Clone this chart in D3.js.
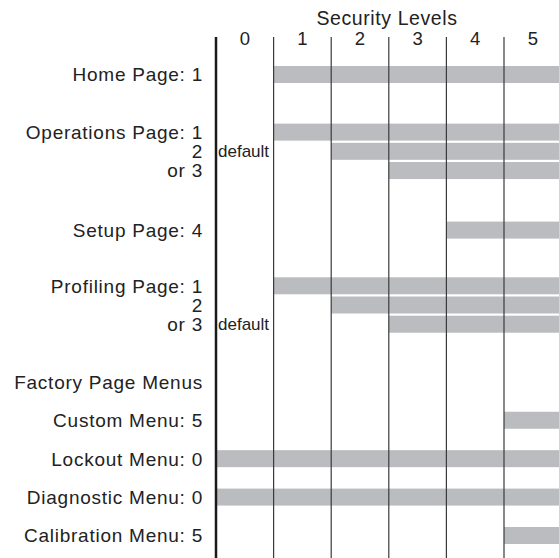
<!DOCTYPE html>
<html>
<head>
<meta charset="utf-8">
<script src="https://cdn.jsdelivr.net/npm/d3@7"></script>
<style>
  body { margin: 0; background: #fff; }
  text { font-family: "Liberation Sans", Arial, sans-serif; fill: #222; }
</style>
</head>
<body>
<div id="chart"></div>
<script>
const width = 559;
const height = 558;

// security levels across the top
const levels = [0, 1, 2, 3, 4, 5];

// rows down the left side, their slot (row units) and the lowest level that has access
const rowLabels = ["Home Page: 1", "Operations Page: 1", "2", "or 3", "Setup Page: 4",
    "Profiling Page: 1", "2", "or 3", "Factory Page Menus", "Custom Menu: 5",
    "Lockout Menu: 0", "Diagnostic Menu: 0", "Calibration Menu: 5"];
const rowSlots = [0, 3, 4, 5, 8.1, 11, 12, 13, 16, 18, 20, 22, 24];
const minLevel = [1, 1, 2, 3, 4, 1, 2, 3, null, 5, 0, 0, 5];
const defaultRows = [2, 7];

const svg = d3.select("#chart")
    .append("svg")
    .attr("width", width)
    .attr("height", height);

const x = d3.scaleLinear().domain([0, 6]).range([216, 561.6]);
const y = d3.scaleLinear().domain([0, 24]).range([74.5, 535.5]);
const barH = 17;

const rows = rowLabels.map((label, i) => ({ label, slot: rowSlots[i], level: minLevel[i], i }));

// gray access bars
svg.selectAll("rect.bar")
    .data(rows.filter(d => d.level !== null))
    .enter().append("rect")
    .attr("class", "bar")
    .attr("x", d => x(d.level) + (d.level === 0 ? 1 : 0))
    .attr("y", d => y(d.slot) - barH / 2)
    .attr("width", d => width - x(d.level))
    .attr("height", barH)
    .attr("fill", "#bbbcbf");

// vertical level dividers
svg.selectAll("line.div")
    .data(levels)
    .enter().append("line")
    .attr("x1", d => x(d))
    .attr("x2", d => x(d))
    .attr("y1", 37)
    .attr("y2", height)
    .attr("stroke", d => d === 0 ? "#1a1a1a" : "#3a3a3a")
    .attr("stroke-width", d => d === 0 ? 2.5 : 1.2);

// title and level numbers
svg.append("text")
    .attr("x", 387)
    .attr("y", 25)
    .attr("text-anchor", "middle")
    .style("font-size", "19.5px")
    .style("letter-spacing", "0.6px")
    .text("Security Levels");

svg.selectAll("text.lvl")
    .data(levels)
    .enter().append("text")
    .attr("class", "lvl")
    .attr("x", d => (x(d) + x(d + 1)) / 2)
    .attr("y", 45)
    .attr("text-anchor", "middle")
    .style("font-size", "18.5px")
    .text(d => d);

// row labels
svg.selectAll("text.row")
    .data(rows)
    .enter().append("text")
    .attr("class", "row")
    .attr("x", 203)
    .attr("y", d => y(d.slot))
    .attr("dy", "0.36em")
    .attr("text-anchor", "end")
    .style("font-size", "19px")
    .style("letter-spacing", "0.75px")
    .text(d => d.label);

// "default" notes
svg.selectAll("text.def")
    .data(defaultRows)
    .enter().append("text")
    .attr("class", "def")
    .attr("x", 218)
    .attr("y", d => y(rowSlots[d]))
    .attr("dy", "0.36em")
    .style("font-family", "'Liberation Sans Narrow', 'Liberation Sans', sans-serif")
    .style("font-size", "17px")
    .text("default");
</script>
</body>
</html>
